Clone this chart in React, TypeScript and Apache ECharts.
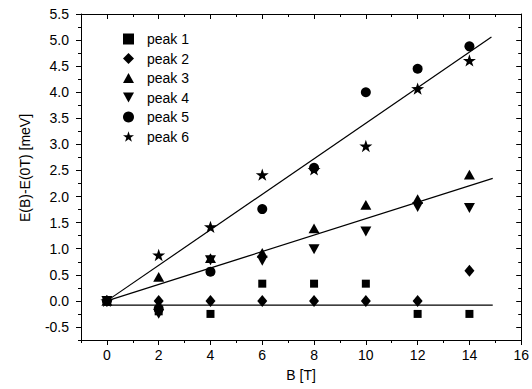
import React, { useEffect, useRef } from "react";
import * as echarts from "echarts";

// ---- data ----
const B = [0, 2, 4, 6, 8, 10, 12, 14];
const peak1 = [0, -0.2, -0.25, 0.33, 0.33, 0.33, -0.25, -0.25];
const peak2 = [0, 0, 0, 0, 0, 0, 0, 0.58];
const peak3 = [0, 0.46, 0.82, 0.92, 1.39, 1.84, 1.95, 2.42];
const peak4 = [0, -0.25, 0.78, 0.77, 0.99, 1.33, 1.8, 1.78];
const peak5 = [0, -0.15, 0.56, 1.76, 2.55, 4.0, 4.45, 4.88];
const peak6 = [0, 0.88, 1.42, 2.42, 2.52, 2.97, 4.07, 4.61];
const peakNames = ["peak 1", "peak 2", "peak 3", "peak 4", "peak 5", "peak 6"];

// linear fits (endpoints)
const fitUpperX = [0, 14.85];
const fitUpperY = [0, 5.06];
const fitMiddleX = [0, 14.9];
const fitMiddleY = [0, 2.35];
const fitLowerX = [0, 14.9];
const fitLowerY = [-0.08, -0.08];

// ticks
const xMajor = [0, 2, 4, 6, 8, 10, 12, 14, 16];
const xMinor = [-1, 1, 3, 5, 7, 9, 11, 13, 15];
const yMajor = [-0.5, 0, 0.5, 1, 1.5, 2, 2.5, 3, 3.5, 4, 4.5, 5, 5.5];
const yMinor = [-0.75, -0.25, 0.25, 0.75, 1.25, 1.75, 2.25, 2.75, 3.25, 3.75, 4.25, 4.75, 5.25];

const X_MIN = -1, X_MAX = 16, Y_MIN = -0.75, Y_MAX = 5.5;

function starPath(): string {
  const pts: string[] = [];
  for (let i = 0; i < 10; i++) {
    const a = (-90 + i * 36) * Math.PI / 180;
    const r = i % 2 === 0 ? 10 : 3.9;
    pts.push(`${(10 + r * Math.cos(a)).toFixed(2)},${(10 + r * Math.sin(a)).toFixed(2)}`);
  }
  return "path://M" + pts.join("L") + "Z";
}

const FONT = "'Liberation Sans', Arial, Helvetica, sans-serif";
const BLACK = "#000";

export default function App() {
  const ref = useRef<HTMLDivElement>(null);
  useEffect(() => {
    if (!ref.current) return;
    const chart = echarts.init(ref.current, undefined, { renderer: "svg" });

    const zip = (ys: number[]) => B.map((b, i) => [b, ys[i]]);
    const zipXY = (xs: number[], ys: number[]) => xs.map((x, i) => [x, ys[i]]);

    const symbols = [
      { symbol: "rect", size: 8 },
      { symbol: "diamond", size: [10, 12] },
      { symbol: "path://M5,0L10,9L0,9Z", size: 11 },
      { symbol: "path://M0,0L10,0L5,9Z", size: 11 },
      { symbol: "circle", size: 10 },
      { symbol: starPath(), size: 13 },
    ];
    const peaks = [peak1, peak2, peak3, peak4, peak5, peak6];

    const xAxisBase = (position: string, ticks: number[], len: number, inside: boolean, major: boolean, line: boolean) => ({
      type: "value",
      position,
      min: X_MIN,
      max: X_MAX,
      axisLine: { show: line, onZero: false, lineStyle: { color: BLACK, width: 1 } },
      axisTick: { show: true, inside, length: len, customValues: ticks, lineStyle: { color: BLACK, width: 1 } },
      axisLabel: major && position === "bottom"
        ? { show: true, customValues: ticks, margin: 8, color: BLACK, fontSize: 14, fontFamily: FONT }
        : { show: false },
      splitLine: { show: false },
      ...(major && position === "bottom"
        ? { name: "B [T]", nameLocation: "middle", nameGap: 28, nameTextStyle: { color: BLACK, fontSize: 14, fontFamily: FONT } }
        : {}),
    });
    const yAxisBase = (position: string, ticks: number[], len: number, inside: boolean, major: boolean, line: boolean) => ({
      type: "value",
      position,
      min: Y_MIN,
      max: Y_MAX,
      axisLine: { show: line, onZero: false, lineStyle: { color: BLACK, width: 1 } },
      axisTick: { show: true, inside, length: len, customValues: ticks, lineStyle: { color: BLACK, width: 1 } },
      axisLabel: major && position === "left"
        ? { show: true, customValues: ticks, margin: 12, color: BLACK, fontSize: 14, fontFamily: FONT, formatter: (v: number) => v.toFixed(1) }
        : { show: false },
      splitLine: { show: false },
      ...(major && position === "left"
        ? { name: "E(B)-E(0T) [meV]", nameLocation: "middle", nameGap: 49, nameTextStyle: { color: BLACK, fontSize: 14, fontFamily: FONT, padding: [0, 0, 0, 18] } }
        : {}),
    });

    const series: any[] = peaks.map((ys, i) => ({
      type: "scatter",
      name: peakNames[i],
      data: zip(ys),
      symbol: symbols[i].symbol,
      symbolSize: symbols[i].size,
      symbolKeepAspect: true,
      itemStyle: { color: BLACK, opacity: 1 },
      z: 3,
    }));
    const fits = [
      zipXY(fitUpperX, fitUpperY),
      zipXY(fitMiddleX, fitMiddleY),
      zipXY(fitLowerX, fitLowerY),
    ];
    fits.forEach((d) => {
      series.push({
        type: "line",
        data: d,
        showSymbol: false,
        symbol: "none",
        lineStyle: { color: BLACK, width: 1.2 },
        silent: true,
        z: 2,
      });
    });

    chart.setOption({
      animation: false,
      backgroundColor: "#fff",
      textStyle: { fontFamily: FONT },
      grid: { left: 81, right: 10, top: 14, bottom: 49, containLabel: false },
      legend: {
        data: peakNames,
        orient: "vertical",
        left: 118,
        top: 27,
        itemWidth: 11,
        itemHeight: 11,
        itemGap: 5.5,
        symbolKeepAspect: true,
        itemStyle: { opacity: 1 },
        textStyle: { color: BLACK, fontSize: 14, fontFamily: FONT, padding: [0, 0, 0, 8] },
        selectedMode: false,
      },
      xAxis: [
        xAxisBase("bottom", xMajor, 5, false, true, true),
        xAxisBase("bottom", xMinor, 3, false, false, false),
        xAxisBase("top", xMajor, 5, true, true, true),
        xAxisBase("top", xMinor, 3, true, false, false),
      ],
      yAxis: [
        yAxisBase("left", yMajor, 5, false, true, true),
        yAxisBase("left", yMinor, 3, false, false, false),
        yAxisBase("right", yMajor, 5, true, true, true),
        yAxisBase("right", yMinor, 3, true, false, false),
      ],
      series,
    });
    return () => chart.dispose();
  }, []);
  return <div ref={ref} style={{ position: "fixed", left: 0, top: 0, width: 532, height: 389 }} />;
}
